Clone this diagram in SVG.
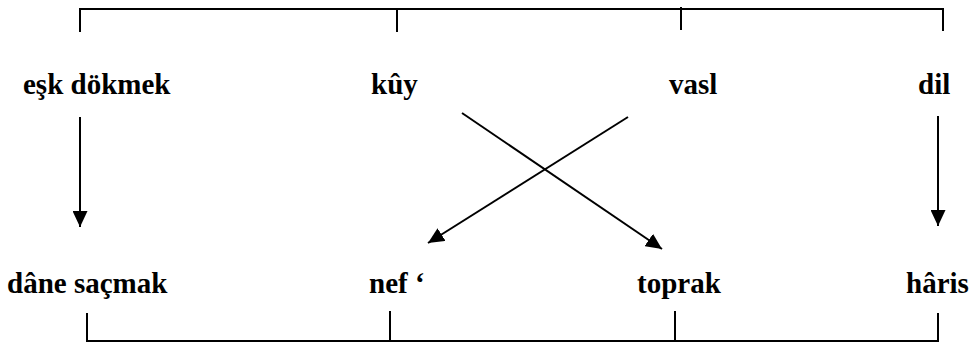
<svg xmlns="http://www.w3.org/2000/svg" width="971" height="343" viewBox="0 0 971 343">
<style>
text{font-family:'Liberation Serif','Times New Roman',Times,serif;font-weight:700;font-size:29px;fill:#000}
.ln{stroke:#000;stroke-width:2;fill:none}
.ar{stroke:#000;stroke-width:2;fill:none;marker-end:url(#ah)}
</style>
<defs>
<marker id="ah" markerUnits="userSpaceOnUse" markerWidth="16" markerHeight="15" refX="16" refY="7.5" orient="auto">
<path d="M0,0 L16,7.5 L0,15 z" fill="#000"/>
</marker>
</defs>
<rect width="971" height="343" fill="#fff"/>
<g id="brackets">
<path class="ln" d="M80,32 V9 H943 V31"/>
<path class="ln" d="M397,9 V32"/>
<path class="ln" d="M681,7 V30"/>
<path class="ln" d="M87,313 V341 H938 V313"/>
<path class="ln" d="M390,311 V341"/>
<path class="ln" d="M675,311 V341"/>
</g>
<g id="connectors">
<line class="ar" x1="80" y1="117" x2="80" y2="227"/>
<line class="ar" x1="938" y1="116" x2="938" y2="226"/>
<line class="ar" x1="462" y1="113" x2="662" y2="249"/>
<line class="ar" x1="628" y1="117" x2="428" y2="243"/>
</g>
<g id="n-esk"><text x="23" y="94">eşk dökmek</text></g>
<g id="n-kuy"><text x="371" y="94">kûy</text></g>
<g id="n-vasl"><text x="669" y="94">vasl</text></g>
<g id="n-dil"><text x="918" y="94">dil</text></g>
<g id="n-dane"><text x="7" y="293">dâne saçmak</text></g>
<g id="n-nef"><text x="369" y="293">nef ‘</text></g>
<g id="n-toprak"><text x="637" y="293">toprak</text></g>
<g id="n-haris"><text x="906" y="293">hâris</text></g>
</svg>
